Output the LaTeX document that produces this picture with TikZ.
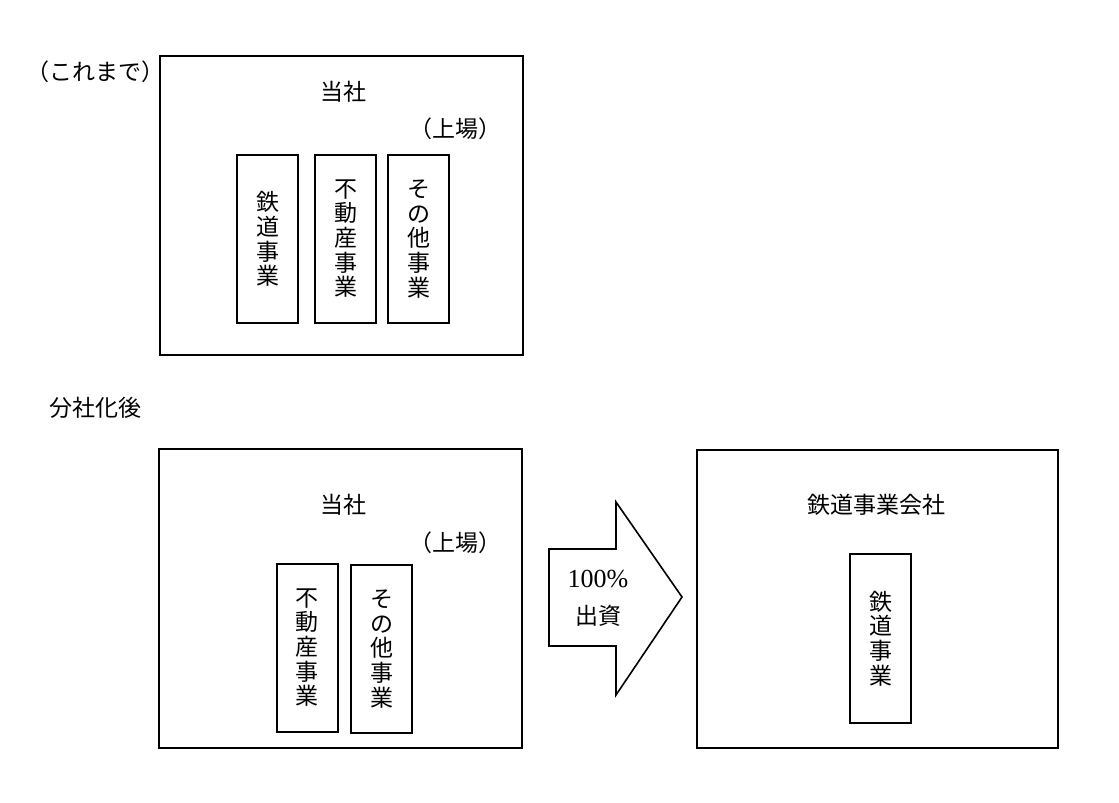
\documentclass[tikz,border=0pt]{standalone}
\usepackage{fontspec}
\setmainfont{Liberation Serif}
\newfontfamily\jp{Noto Sans CJK JP}
\begin{document}
\begin{tikzpicture}[x=0.5pt,y=-0.5pt,
				every node/.style={font=\jp\fontsize{11.5}{12.3}\selectfont,inner sep=0pt},
				company/.style={draw,line width=1pt,minimum width=181.5pt,minimum height=149.5pt},
				business/.style={draw,line width=1pt,minimum width=30.5pt,minimum height=84pt,align=center}]
\useasboundingbox (0,0) rectangle (1119,803);
% before
\node (before) at (95,72) {（これまで）};
\node[company] (old) at (341.5,205.5) {};
\node (oldname) at (343,92) {当社};
\node (oldlisted) at (455,129) {（上場）};
\node[business] (oldrail) at (267.5,239) {鉄\\道\\事\\業};
\node[business] (oldestate) at (345.5,238.5) {不\\動\\産\\事\\業};
\node[business] (oldother) at (418.5,239) {そ\\の\\他\\事\\業};
% after
\node (after) at (95,408) {分社化後};
\node[company] (new) at (340.5,598.5) {};
\node (newname) at (343,505) {当社};
\node (newlisted) at (455,543) {（上場）};
\node[business] (newestate) at (307,647.5) {不\\動\\産\\事\\業};
\node[business] (newother) at (381.5,649) {そ\\の\\他\\事\\業};
\draw[line width=0.8pt] (549,549) -- (616,549) -- (616,502) -- (682,597)
	-- (616,695) -- (616,646) -- (549,646) -- cycle;
\node[align=center,font=\jp\fontsize{11.5}{18.5}\selectfont] (invest) at (598,598) {{\rmfamily\fontsize{13}{13}\selectfont 100\%}\\出資};
\node[company,minimum width=180.5pt,minimum height=149pt] (rail) at (877.5,599) {};
\node (railname) at (876,505) {鉄道事業会社};
\node[business,minimum height=84.5pt] (railbiz) at (880.5,638.5) {鉄\\道\\事\\業};
\end{tikzpicture}
\end{document}
